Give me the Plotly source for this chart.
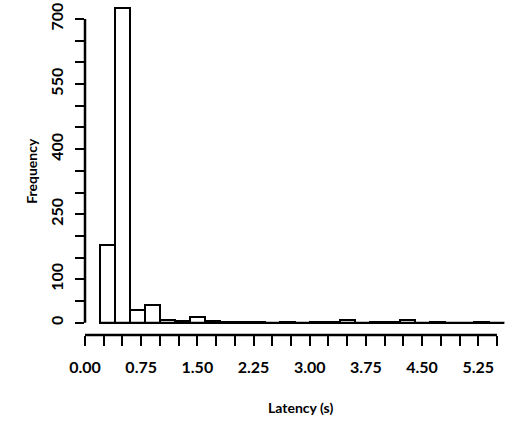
import numpy as np
import plotly.graph_objects as go

# ---- data ----
bin_left = [0.2, 0.4, 0.6, 0.8, 1.0, 1.2, 1.4, 1.6, 1.8, 2.0, 2.2, 2.4, 2.6, 2.8,
            3.0, 3.2, 3.4, 3.6, 3.8, 4.0, 4.2, 4.4, 4.6, 4.8, 5.0, 5.2, 5.4]
bin_width = 0.2
counts = [179, 725, 29, 40, 7, 3, 12, 4, 1, 2, 1, 0, 1, 0,
          1, 1, 6, 0, 1, 1, 6, 0, 1, 0, 0, 1, 0]

x_tick_step = 0.25
x_tick_max = 5.5
x_tick_labels = ["0.00", "0.75", "1.50", "2.25", "3.00", "3.75", "4.50", "5.25"]
y_tick_step = 50
y_tick_max = 700
y_tick_labels = ["0", "100", "250", "400", "550", "700"]

x_title = "Latency (s)"
y_title = "Frequency"

FONT = "Lato"

# ---- build ticks ----
xt = np.round(np.arange(0, x_tick_max + 1e-9, x_tick_step), 2)
xt_text = [f"{v:.2f}" if f"{v:.2f}" in x_tick_labels else "" for v in xt]
yt = np.arange(0, y_tick_max + 1, y_tick_step)
yt_text = [str(v) if str(v) in y_tick_labels else "" for v in yt]

centers = [l + bin_width / 2 for l in bin_left]

fig = go.Figure()
# baseline of the histogram (zero-count bins appear as flat line)
fig.add_trace(go.Scatter(
    x=[bin_left[0], bin_left[-1] + bin_width], y=[0, 0], mode="lines",
    line=dict(color="black", width=2), hoverinfo="skip", showlegend=False))
fig.add_trace(go.Bar(
    x=centers, y=counts, width=bin_width,
    marker=dict(color="white", line=dict(color="black", width=2)),
    showlegend=False))

W, H = 507, 425
ml, mr, mt, mb = 85, 0, 5, 90
pw = W - ml - mr
ph = H - mt - mb
px_per_x = 74.9
px_per_y = 0.4338
x0 = 0.0
x1 = pw / px_per_x
y_zero_from_bottom = 12.3
y0 = -y_zero_from_bottom / px_per_y
y1 = y0 + ph / px_per_y

fig.update_layout(
    width=W, height=H,
    margin=dict(l=ml, r=mr, t=mt, b=mb),
    plot_bgcolor="white", paper_bgcolor="white",
    bargap=0,
    font=dict(family=FONT, size=16, color="black", weight="bold"),
    xaxis=dict(range=[x0, x1], showgrid=False, zeroline=False, showline=False,
               tickmode="array", tickvals=xt, ticktext=xt_text,
               ticks="outside", ticklen=10, tickwidth=2, tickcolor="black",
               ticklabelstandoff=8,
               tickfont=dict(family=FONT, size=16, color="black", weight="bold")),
    yaxis=dict(range=[y0, y1], showgrid=False, zeroline=False, showline=False,
               tickmode="array", tickvals=yt, ticktext=yt_text,
               ticks="outside", ticklen=9, tickwidth=2, tickcolor="black",
               tickangle=-90, ticklabelstandoff=6,
               tickfont=dict(family=FONT, size=16, color="black", weight="bold")),
    shapes=[
        dict(type="line", xref="x", yref="paper", x0=0, x1=x_tick_max, y0=0, y1=0,
             line=dict(color="black", width=2.5)),
        dict(type="line", xref="paper", yref="y", x0=0, x1=0, y0=0, y1=y_tick_max,
             line=dict(color="black", width=2.5)),
    ],
    annotations=[
        dict(text=x_title, xref="paper", yref="paper", x=(300 - ml) / pw, y=0,
             yshift=-72, showarrow=False, xanchor="center", yanchor="middle",
             font=dict(family=FONT, size=14, color="black", weight="bold")),
        dict(text=y_title, xref="paper", yref="y", x=0, y=350, xshift=-53,
             showarrow=False, textangle=-90, xanchor="center", yanchor="middle",
             font=dict(family=FONT, size=14, color="black", weight="bold")),
    ],
)

fig.write_html("out.html")
